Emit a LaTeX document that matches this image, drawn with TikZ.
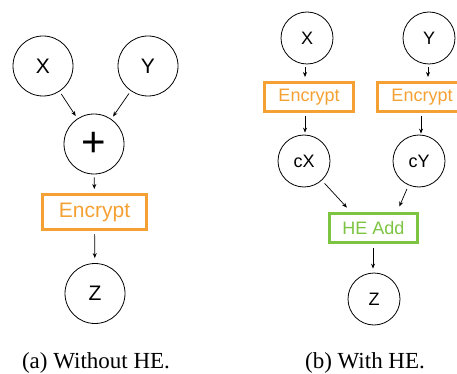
\documentclass[tikz,border=0pt]{standalone}
\usepackage{fontspec}
\setmainfont{Liberation Serif}
\setsansfont{Liberation Sans}
\usetikzlibrary{arrows.meta}
\definecolor{encorange}{HTML}{F5A033}
\definecolor{hegreen}{HTML}{7DC443}
\tikzset{
  every node/.style={font=\sffamily},
  bigcirc/.style={circle, draw=black, line width=0.8pt, minimum size=60pt, inner sep=0pt, font=\sffamily\fontsize{21}{21}\selectfont},
  smallcirc/.style={circle, draw=black, line width=0.8pt, minimum size=52pt, inner sep=0pt, font=\sffamily\fontsize{18}{18}\selectfont},
  encbox/.style={rectangle, draw=encorange, line width=3pt, text=encorange, inner sep=0pt},
  hebox/.style={rectangle, draw=hegreen, line width=3pt, text=hegreen, inner sep=0pt, minimum width=88pt, minimum height=29pt, font=\sffamily\fontsize{18}{18}\selectfont},
  arr/.style={-{Stealth[length=5pt,width=4pt]}, line width=0.7pt, black},
  captext/.style={font=\rmfamily\fontsize{23}{23}\selectfont, anchor=base}
}
\begin{document}
\begin{tikzpicture}[x=1pt,y=1pt]
\useasboundingbox (0,0) rectangle (457,-374);
% left panel
\node[bigcirc] (lx) at (43,-66) {X};
\node[bigcirc] (ly) at (148,-66) {Y};
\node[bigcirc, font=\sffamily\fontsize{42}{42}\selectfont] (plus) at (94,-144) {+};
\node[encbox, minimum width=104pt, minimum height=35pt, font=\sffamily\fontsize{21}{21}\selectfont] (lenc) at (94.5,-212) {Encrypt};
\node[bigcirc] (lz) at (95,-293.5) {Z};
\draw[arr, shorten <=3pt, shorten >=3pt] (lx) -- (plus);
\draw[arr, shorten <=3pt, shorten >=3pt] (ly) -- (plus);
\draw[arr, shorten <=3pt, shorten >=4pt] (plus) -- (lenc);
\draw[arr, shorten <=3pt, shorten >=5pt] (lenc) -- (lz);
% right panel
\node[smallcirc] (rx) at (307,-38) {X};
\node[smallcirc] (ry) at (429,-38) {Y};
\node[encbox, minimum width=89pt, minimum height=29pt, font=\sffamily\fontsize{18}{18}\selectfont] (renc1) at (309,-97) {Encrypt};
\node[encbox, minimum width=89pt, minimum height=29pt, font=\sffamily\fontsize{18}{18}\selectfont] (renc2) at (422,-97) {Encrypt};
\node[smallcirc] (cx) at (304,-161) {cX};
\node[smallcirc] (cy) at (419,-161) {cY};
\node[hebox] (he) at (373.5,-228) {HE Add};
\node[smallcirc] (rz) at (374,-299) {Z};
\draw[arr, shorten <=3pt, shorten >=4pt] (rx.south -| 305,0) -- (renc1.north -| 305,0);
\draw[arr, shorten <=3pt, shorten >=4pt] (ry.south -| 428,0) -- (renc2.north -| 428,0);
\draw[arr, shorten <=3pt, shorten >=2pt] (renc1.south -| 305,0) -- (cx.north -| 305,0);
\draw[arr, shorten <=3pt, shorten >=1pt] (renc2.south -| 421,0) -- (cy.north -| 421,0);
\draw[arr, shorten <=4pt, shorten >=6pt] (cx) -- (he.north west -| 351,0);
\draw[arr, shorten <=4pt, shorten >=6pt] (cy) -- (he.north west -| 397,0);
\draw[arr, shorten <=4pt, shorten >=4pt] (he.south -| 373,0) -- (rz.north -| 373,0);
% captions
\node[captext] (capa) at (96,-368) {(a) Without HE.};
\node[captext] (capb) at (365,-368) {(b) With HE.};
\end{tikzpicture}
\end{document}
